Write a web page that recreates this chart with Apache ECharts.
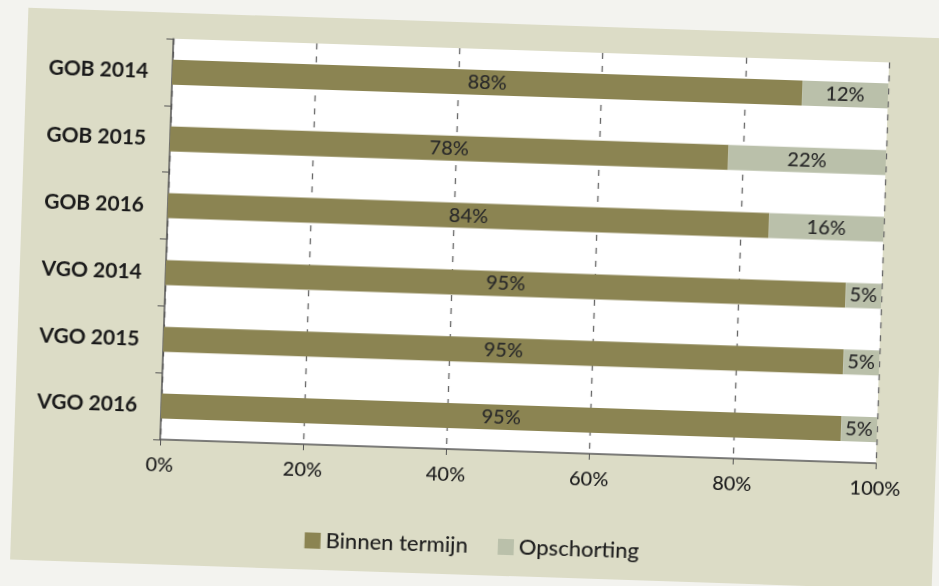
<!DOCTYPE html>
<html>
<head>
<meta charset="utf-8">
<script src="https://cdn.jsdelivr.net/npm/echarts@6/dist/echarts.min.js"></script>
<style>
html,body{margin:0;padding:0;width:939px;height:586px;overflow:hidden;background:#f3f3ef;}
#chart{position:absolute;left:19px;top:23px;width:922px;height:552px;background:#dcdcc6;transform:rotate(1.9deg);transform-origin:50% 50%;}
</style>
</head>
<body>
<div id="chart"></div>
<script>
const categories = ['GOB 2014','GOB 2015','GOB 2016','VGO 2014','VGO 2015','VGO 2016'];
const binnenTermijn = [88, 78, 84, 95, 95, 95];
const opschorting = [12, 22, 16, 5, 5, 5];
const xTicks = [0, 20, 40, 60, 80, 100];

const chart = echarts.init(document.getElementById('chart'), null, {renderer:'canvas'});
const font = "Lato, 'Open Sans', 'DejaVu Sans', sans-serif";
const labelStyle = {show:true, position:'inside', formatter:'{c}%', color:'#2a2a2a', fontSize:20, fontWeight:500, fontFamily:font};
chart.setOption({
  animation:false,
  textStyle:{fontFamily:font},
  grid:{left:146, right:60, top:26, bottom:125, containLabel:false, show:true, backgroundColor:'#ffffff', borderWidth:0},
  legend:{
    data:['Binnen termijn','Opschorting'],
    bottom:13, left:'center',
    itemWidth:16, itemHeight:16, itemGap:30, icon:'rect',
    textStyle:{fontSize:22, fontWeight:500, color:'#1e1e1e', fontFamily:font}
  },
  xAxis:{
    type:'value', min:xTicks[0], max:xTicks[xTicks.length-1], interval:20,
    axisLine:{show:true, lineStyle:{color:'#555', width:1.5}},
    axisTick:{show:true, length:6, lineStyle:{color:'#555'}},
    axisLabel:{formatter:'{value}%', fontSize:20, fontWeight:500, color:'#1e1e1e', margin:16, fontFamily:font},
    splitLine:{show:true, lineStyle:{color:'#666', type:[6,7], width:1.3}}
  },
  yAxis:{
    type:'category', data:categories, inverse:true,
    axisLine:{show:true, lineStyle:{color:'#555', width:1.5}},
    axisTick:{show:true, length:7, lineStyle:{color:'#555'}},
    axisLabel:{fontSize:21, fontWeight:700, color:'#1a1a1a', margin:24, fontFamily:font}
  },
  series:[
    {name:'Binnen termijn', type:'bar', stack:'t', data:binnenTermijn, barWidth:25,
     itemStyle:{color:'#8b8452'}, label:labelStyle},
    {name:'Opschorting', type:'bar', stack:'t', data:opschorting, barWidth:25,
     itemStyle:{color:'#bac0aa'}, label:labelStyle}
  ]
});
</script>
</body>
</html>
